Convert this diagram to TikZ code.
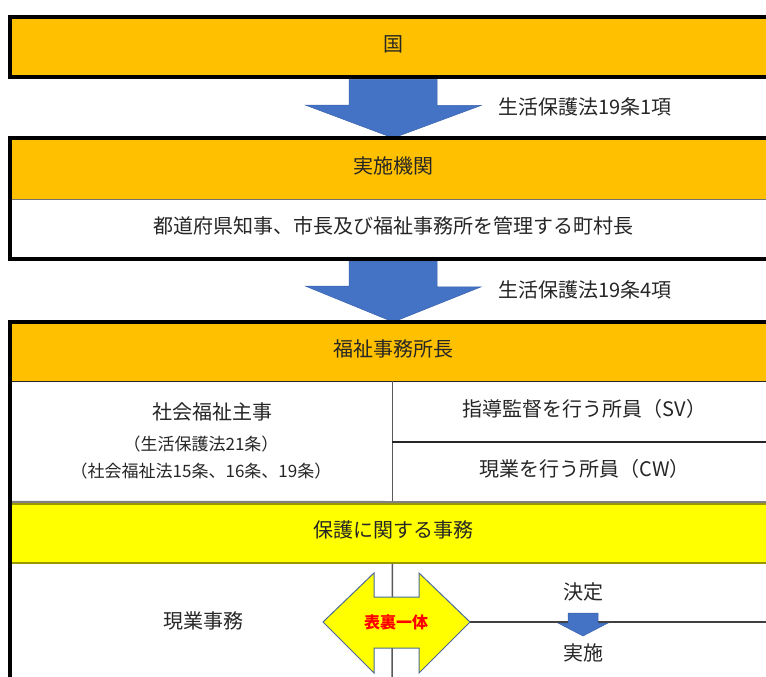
\documentclass[tikz,border=0pt]{standalone}
\usepackage{fontspec}
\usepackage{tikz}
\newfontfamily\jpfont{Noto Sans CJK JP}
\definecolor{hdrorange}{HTML}{FFC000}
\definecolor{bandyellow}{HTML}{FFFF00}
\definecolor{bandedge}{HTML}{9A9A00}
\definecolor{arrowblue}{HTML}{4472C4}
\definecolor{arrowedge}{HTML}{3A62AE}
\definecolor{dbledge}{HTML}{4A6A96}
\definecolor{textgray}{HTML}{262626}

\begin{document}
\begin{tikzpicture}[x=1pt, y=-1pt,
    txt/.style={font=\jpfont\fontsize{20}{24}\selectfont, text=textgray, inner sep=0pt},
    smalltxt/.style={font=\jpfont\fontsize{17}{20}\selectfont, text=textgray, inner sep=0pt},
    band/.style={anchor=north west, minimum width=766pt, inner sep=0pt, text depth=8pt, font=\jpfont\fontsize{20}{24}\selectfont, text=textgray},
    frame/.style={draw=black, line width=4pt},
    rule/.style={draw=black!65, line width=1.5pt},
    blockarrow/.style={fill=arrowblue, draw=arrowedge, line width=0.5pt},
    dblarrow/.style={fill=bandyellow, draw=dbledge, line width=1pt}]
  \useasboundingbox (0,0) rectangle (766,677);
  \clip (0,0) rectangle (766,677);

  \node[band, fill=hdrorange, minimum height=60pt] (kuni) at (10,17) {国};

  \node[band, fill=hdrorange, minimum height=61pt] (kikan) at (10,138) {実施機関};
  \node[band, fill=white, minimum height=59pt] (chiji) at (kikan.south west) {都道府県知事、市長及び福祉事務所を管理する町村長};

  \node[band, fill=hdrorange, minimum height=59pt] (fukushi) at (10,322) {福祉事務所長};
  \node[band, fill=white, minimum width=382pt, minimum height=120pt] (shuji) at (fukushi.south west) {};
  \node[band, fill=white, minimum width=384pt, minimum height=60pt] (sv) at (shuji.north east) {指導監督を行う所員（SV）};
  \node[band, fill=white, minimum width=384pt, minimum height=60pt] (cw) at (sv.south west) {現業を行う所員（CW）};
  \node[txt] (shujit) at (212,412) {社会福祉主事};
  \node[smalltxt] (seiho21) at (201,444) {（生活保護法21条）};
  \node[smalltxt] (fukushihou) at (201,471) {（社会福祉法15条、16条、19条）};
  \node[band, fill=bandyellow, draw=bandedge, line width=1.5pt, minimum height=59pt] (jimu) at (10,503) {保護に関する事務};

  \node[txt] (jou1) at (585,107) {生活保護法19条1項};
  \node[txt] (jou4) at (585,290) {生活保護法19条4項};

  \draw[blockarrow] (kuni.south) ++(-44,2) -- ++(88,0) -- ++(0,26) -- ++(44,0) -- (kikan.north) -- ++(-88,-33) -- ++(44,0) -- cycle;
  \draw[blockarrow] (chiji.south) ++(-44,2) -- ++(88,0) -- ++(0,26) -- ++(44,0) -- (fukushi.north) -- ++(-88,-36) -- ++(44,0) -- cycle;

  \draw[frame] (kuni.north west) rectangle (kuni.south east);
  \draw[draw=black!55, line width=1.5pt] (kikan.south west) -- (kikan.south east);
  \draw[frame] (kikan.north west) rectangle (chiji.south east);

  \coordinate (divbot) at (392,700);
  \draw[rule, draw=black!85] (fukushi.south west) -- (fukushi.south east);
  \draw[rule] (shuji.north east) -- (shuji.south east);
  \draw[rule, draw=black!85] (sv.south west) -- (sv.south east);
  \draw[draw=black!50, line width=2pt] (shuji.south west) -- (cw.south east);
  \draw[rule] (jimu.south -| shuji.east) -- (divbot);
  \draw[frame] (10,700) -- (fukushi.north west) -- (fukushi.north east);

  \node[txt] (genjimu) at (203,621) {現業事務};
  \coordinate (ittai) at (396,622);
  \coordinate (redge) at (776,622);
  \draw[rule, draw=black!75] (ittai) ++(73,0) -- (redge);
  \draw[dblarrow] (ittai) ++(-73,0) -- ++(51,-49) -- ++(0,24) -- ++(45,0) -- ++(0,-24) -- ++(51,49) -- ++(-51,51) -- ++(0,-25) -- ++(-45,0) -- ++(0,25) -- cycle;
  \node[font=\jpfont\bfseries\fontsize{16}{19}\selectfont, text=red, inner sep=0pt] (hyouri) at (ittai) {表裏一体};

  \node[txt] (kettei) at (583,592) {決定};
  \node[txt] (jisshi) at (583,653) {実施};
  \coordinate (ktip) at (583,636);
  \draw[blockarrow] (ktip) -- ++(25,-13) -- ++(-10,0) -- ++(0,-10) -- ++(-30,0) -- ++(0,10) -- ++(-10,0) -- cycle;
\end{tikzpicture}
\end{document}
